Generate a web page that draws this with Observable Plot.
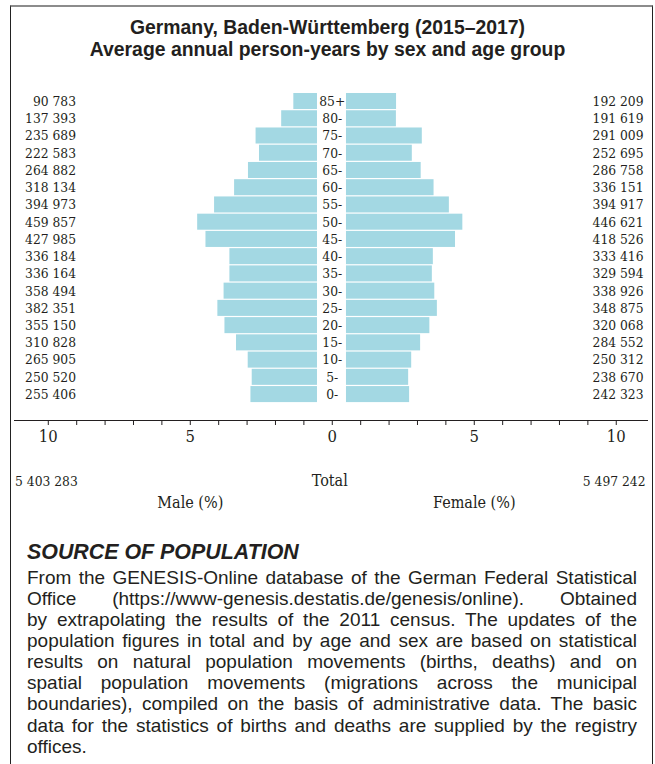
<!DOCTYPE html>
<html><head><meta charset="utf-8">
<script src="https://cdn.jsdelivr.net/npm/d3@7"></script>
<script src="https://cdn.jsdelivr.net/npm/@observablehq/plot@0.6"></script>
<style>
body{margin:0;background:#fff;}
#wrap{position:relative;width:655px;height:764px;overflow:hidden;font-family:"Liberation Sans",Arial,sans-serif;color:#231f20;}
#frame{position:absolute;left:10px;top:5px;width:641px;height:800px;border-top:2px solid #8c8c8c;border-left:1px solid #222;border-right:1px solid #222;}
#title{position:absolute;left:0;width:655px;top:16px;text-align:center;font-weight:bold;font-size:19.4px;line-height:22px;}
#chart{position:absolute;left:0;top:70px;}
#srchead{position:absolute;left:27px;top:540px;font-weight:bold;font-style:italic;font-size:21.4px;line-height:24px;}
#srcbody{position:absolute;left:27px;top:566.5px;width:610px;font-size:19px;line-height:21.15px;}
.ln{white-space:nowrap;}
</style></head>
<body>
<div id="wrap">
  <div id="frame"></div>
  <div id="title">Germany, Baden-Württemberg (2015–2017)<br>Average annual person-years by sex and age group</div>
  <div id="chart"></div>
  <div id="srchead">SOURCE OF POPULATION</div>
  <div id="srcbody"></div>
</div>
<script>
const ages = ["0-","5-","10-","15-","20-","25-","30-","35-","40-","45-","50-","55-","60-","65-","70-","75-","80-","85+"];
const male = [255406,250520,265905,310828,355150,382351,358494,336164,336184,427985,459857,394973,318134,264882,222583,235689,137393,90783];
const female = [242323,238670,250312,284552,320068,348875,338926,329594,333416,418526,446621,394917,336151,286758,252695,291009,191619,192209];
const totalMale = 5403283;
const totalFemale = 5497242;
const axisTicks = [-10,-9,-8,-7,-6,-5,-4,-3,-2,-1,0,1,2,3,4,5,6,7,8,9,10];
const sideLabels = [{label:"Male (%)", side:-1},{label:"Female (%)", side:1}];
const sourceLines = [
 "From the GENESIS-Online database of the German Federal Statistical",
 "Office (https://www-genesis.destatis.de/genesis/online). Obtained",
 "by extrapolating the results of the 2011 census. The updates of the",
 "population figures in total and by age and sex are based on statistical",
 "results on natural population movements (births, deaths) and on",
 "spatial population movements (migrations across the municipal",
 "boundaries), compiled on the basis of administrative data. The basic",
 "data for the statistics of births and deaths are supplied by the registry",
 "offices."
];

const grand = totalMale + totalFemale;
const rows = ages.map((a,i)=>({age:a, male:male[i], female:female[i], pm: male[i]/grand*100, pf: female[i]/grand*100}));
const fmt = v => d3.format(",")(v).replace(/,/g," ");
const order = ages.slice().reverse();
const barColor = "#a3d8e3";
const ink = "#231f20";
const serif = "'DejaVu Serif Condensed', 'DejaVu Serif', serif";

const chart = Plot.plot({
  width: 655,
  height: 450,
  marginLeft: 14,
  marginRight: 8,
  marginTop: 20,
  marginBottom: 100,
  style: {fontFamily: serif, fontSize: "13.7px", color: ink, background: "transparent", fontStretch: "condensed"},
  x: {domain: [-11.19, 11.1]},
  y: {domain: order, range: [21.8, 333.3], padding: 0.07, round: false, axis: null},
  marks: [
    Plot.barX(rows, {y: "age", x1: 0, x2: d => -d.pm, fill: barColor, dx: -14.8}),
    Plot.barX(rows, {y: "age", x1: 0, x2: d => d.pf, fill: barColor, dx: 14.2}),
    Plot.text(rows, {y: "age", x: 0, text: "age", fill: ink, fontSize: 13.7}),
    Plot.text(rows, {y: "age", frameAnchor: "left", dx: 61.5, textAnchor: "end", text: d => fmt(d.male), fill: ink, fontSize: 13.7}),
    Plot.text(rows, {y: "age", frameAnchor: "right", dx: -4, textAnchor: "end", text: d => fmt(d.female), fill: ink, fontSize: 13.7}),
    Plot.frame({anchor: "bottom", stroke: ink}),
    Plot.axisX({ticks: axisTicks, tickSize: 5, tickPadding: 5, tickFormat: d => d % 5 === 0 ? Math.abs(d) : "", fontSize: 16.5, anchor: "bottom", label: null, stroke: ink, fill: ink}),
    Plot.text([totalMale], {frameAnchor: "bottom-left", lineAnchor: "middle", dx: 0.6, dy: 60.7, textAnchor: "start", text: d => fmt(d), fill: ink, fontSize: 13.7}),
    Plot.text([totalFemale], {frameAnchor: "bottom-right", lineAnchor: "middle", dx: -2, dy: 60.7, textAnchor: "end", text: d => fmt(d), fill: ink, fontSize: 13.7}),
    Plot.text(["Total"], {x: 0, frameAnchor: "bottom", lineAnchor: "middle", dx: -2.5, dy: 60.7, text: d => d, fill: ink, fontSize: 16}),
    Plot.text(sideLabels, {x: d => d.side * 5, frameAnchor: "bottom", lineAnchor: "middle", dy: 82.7, text: "label", fill: ink, fontSize: 16})
  ]
});
document.getElementById("chart").appendChild(chart);

const body = document.getElementById("srcbody");
sourceLines.forEach((t, i) => {
  const div = document.createElement("div");
  div.className = "ln";
  const span = document.createElement("span");
  span.textContent = t;
  div.appendChild(span);
  body.appendChild(div);
  if (i < sourceLines.length - 1) {
    const w = span.getBoundingClientRect().width;
    const n = (t.match(/ /g) || []).length;
    if (n > 0) span.style.wordSpacing = ((610 - w) / n) + "px";
  }
});
</script>
</body></html>
